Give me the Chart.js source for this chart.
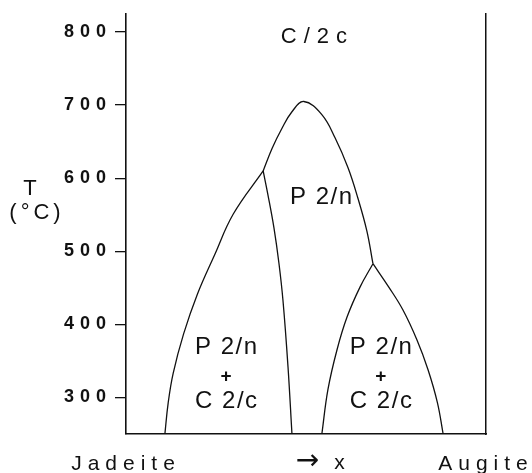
<!DOCTYPE html>
<html>
<head>
<meta charset="utf-8">
<script src="https://cdn.jsdelivr.net/npm/chart.js@4/dist/chart.umd.min.js"></script>
<style>
  html, body { margin: 0; padding: 0; background: #fff; }
  #wrap { width: 532px; height: 473px; }
</style>
</head>
<body>
<div id="wrap"><canvas id="phaseChart" width="532" height="473"></canvas></div>
<script>
// temperature ticks (°C)
const yTicks = [300, 400, 500, 600, 700, 800];

// composition axis: 0 = Jadeite, 1 = Augite
const xLabelPos = [0, 1];
const xLabelText = ['Jadeite', 'Augite'];
const arrowPos = 0.54;

// left boundary of the P2/n + C2/c field (jadeite side)
const leftOuterX = [0.108, 0.117, 0.131, 0.160, 0.198, 0.246, 0.298, 0.381];
const leftOuterT = [250, 292, 333, 387, 441, 495, 551, 610];

// line from the left triple point down to the axis
const centerX = [0.381, 0.394, 0.411, 0.425, 0.436, 0.450, 0.461];
const centerT = [610, 578, 532, 483, 433, 342, 250];

// P2/n dome
const domeX = [0.381, 0.406, 0.433, 0.461, 0.494, 0.544, 0.581, 0.617, 0.644, 0.669, 0.686];
const domeT = [610, 641, 668, 691, 705, 687, 655, 614, 573, 528, 483];

// right two-phase field, split at its cusp
const rightUpX = [0.544, 0.561, 0.586, 0.614, 0.650, 0.686];
const rightUpT = [250, 311, 365, 410, 451, 483];
const rightDownX = [0.686, 0.730, 0.769, 0.808, 0.839, 0.865, 0.881];
const rightDownT = [483, 451, 420, 379, 338, 293, 250];

// field names, placed in data units
const fieldText = ['C/2c', 'P 2/n', 'P 2/n', '+', 'C 2/c', 'P 2/n', '+', 'C 2/c'];
const fieldX = [0.522, 0.542, 0.278, 0.278, 0.278, 0.708, 0.708, 0.708];
const fieldT = [793, 574, 368, 328, 295, 368, 328, 295];

const toPts = (xs, ts) => xs.map((x, i) => ({ x: x, y: ts[i] }));

function curve(xs, ts) {
    return {
        data: toPts(xs, ts),
        borderColor: '#111',
        borderWidth: 1.3,
        pointRadius: 0,
        fill: false,
        tension: 0.4
    };
}

const FONT = "'Liberation Sans', Arial, sans-serif";

// global letter spacing, the scanned figure is widely spaced
const spacing = {
    id: 'spacing',
    beforeDraw(chart) {
        chart.ctx.letterSpacing = '6px';
    }
};

const fieldLabels = {
    id: 'fieldLabels',
    afterDatasetsDraw(chart) {
        const ctx = chart.ctx;
        const xs = chart.scales.x, ys = chart.scales.y;
        ctx.save();
        ctx.fillStyle = '#111';
        ctx.textAlign = 'center';
        ctx.textBaseline = 'middle';
        fieldText.forEach((t, i) => {
            let ls = t === 'C/2c' ? 7 : 1.5;
            ctx.letterSpacing = ls + 'px';
            if (t === 'C/2c') ctx.font = '22px ' + FONT;
            else if (t === '+') ctx.font = 'bold 19px ' + FONT;
            else ctx.font = '24px ' + FONT;
            ctx.fillText(t, xs.getPixelForValue(fieldX[i]) + ls / 2, ys.getPixelForValue(fieldT[i]));
        });
        // axis title
        ctx.letterSpacing = '4px';
        ctx.font = '22px ' + FONT;
        ctx.fillText('T', 32, ys.getPixelForValue(585));
        ctx.fillText('(°C)', 37, ys.getPixelForValue(553));
        // composition arrow under the axis
        const ax = xs.getPixelForValue(arrowPos);
        const ay = xs.bottom - 11;
        ctx.letterSpacing = '0px';
        ctx.font = "28px 'DejaVu Sans', sans-serif";
        ctx.fillText('→', ax - 13, ay);
        ctx.font = '21px ' + FONT;
        ctx.fillText('x', ax + 19, ay + 1);
        ctx.restore();
    }
};

const ctx = document.getElementById('phaseChart').getContext('2d');

const chart = new Chart(ctx, {
    type: 'line',
    data: {
        datasets: [
            curve(leftOuterX, leftOuterT),
            curve(centerX, centerT),
            curve(domeX, domeT),
            curve(rightUpX, rightUpT),
            curve(rightDownX, rightDownT)
        ]
    },
    options: {
        responsive: false,
        animation: false,
        layout: { padding: { top: 9, right: 46, left: 0, bottom: 0 } },
        plugins: {
            legend: { display: false },
            tooltip: { enabled: false }
        },
        scales: {
            x: {
                type: 'linear',
                min: 0,
                max: 1,
                grid: { display: false },
                border: { display: true, color: '#111', width: 1.6 },
                afterBuildTicks: s => { s.ticks = xLabelPos.map(v => ({ value: v })); },
                afterFit: s => { s.height = 39; },
                ticks: {
                    autoSkip: false,
                    maxRotation: 0,
                    padding: 10,
                    color: '#111',
                    font: { family: FONT, size: 21 },
                    callback: (v) => xLabelText[xLabelPos.indexOf(v)]
                }
            },
            y: {
                min: 250,
                max: 825,
                grid: {
                    display: true,
                    drawOnChartArea: false,
                    drawTicks: true,
                    tickLength: 11,
                    color: '#111',
                    lineWidth: 1.3
                },
                border: { display: true, color: '#111', width: 1.6 },
                afterBuildTicks: s => { s.ticks = yTicks.map(v => ({ value: v })); },
                afterFit: s => { s.width = 126; },
                ticks: {
                    padding: 3,
                    color: '#111',
                    font: { family: FONT, size: 18, weight: 'bold' }
                }
            },
            y2: {
                position: 'right',
                min: 250,
                max: 825,
                grid: { display: false },
                border: { display: true, color: '#111', width: 1.5 },
                ticks: { display: false },
                afterFit: s => { s.width = 0; }
            }
        }
    },
    plugins: [spacing, fieldLabels]
});
</script>
</body>
</html>
